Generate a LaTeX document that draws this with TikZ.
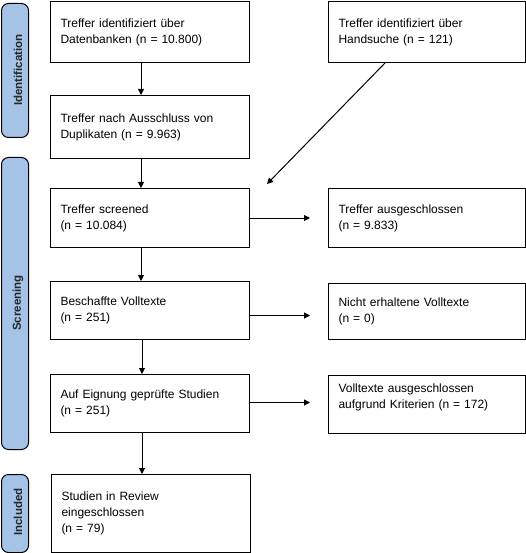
\documentclass[tikz,border=0pt]{standalone}
\usepackage{fontspec}
\setmainfont{Liberation Sans}
\usetikzlibrary{arrows.meta}
\definecolor{barblue}{HTML}{A4C3E6}
\begin{document}
\begin{tikzpicture}[x=1pt,y=-1pt,
  box/.style={draw, line width=1pt, align=left, inner xsep=10pt, inner ysep=0pt,
    anchor=north west, font=\fontsize{12}{16}\selectfont},
  lbox/.style={box, text width=179pt},
  rbox/.style={box, text width=177pt},
  bar/.style={draw, line width=1pt, fill=barblue, rounded corners=7pt, anchor=north west,
    minimum width=27pt, inner sep=0pt},
  barlabel/.style={rotate=90, font=\fontsize{11.5}{14}\selectfont\bfseries, text=black!85, inner sep=0pt},
  arr/.style={line width=1pt, -{Triangle[length=6pt,width=6pt]}}]
\useasboundingbox (0,0) rectangle (526,553);

% side bars
\node[bar, minimum height=134pt] (s1) at (1,3) {};
\node[barlabel] (l1) at (18,70) {Identification};
\node[bar, minimum height=292pt] (s2) at (1,157) {};
\node[barlabel] (l2) at (18,303) {Screening};
\node[bar, minimum height=78pt] (s3) at (1,474) {};
\node[barlabel] (l3) at (18,512) {Included};

% left column
\node[lbox, minimum height=61pt] (b1) at (50,1) {Treffer identifiziert über\\Datenbanken (n = 10.800)};
\node[lbox, minimum height=63pt] (b2) at (50,95) {Treffer nach Ausschluss von\\Duplikaten (n = 9.963)};
\node[lbox, minimum height=59pt] (b3) at (50,188) {Treffer screened\\(n = 10.084)};
\node[lbox, minimum height=58pt] (b4) at (50,281) {Beschaffte Volltexte\\(n = 251)};
\node[lbox, minimum height=58pt] (b5) at (50,374) {Auf Eignung geprüfte Studien\\(n = 251)};
\node[lbox, minimum height=78pt] (b6) at (51,474) {Studien in Review\\eingeschlossen\\(n = 79)};

% right column
\node[rbox, minimum height=61pt] (r1) at (328,1) {Treffer identifiziert über\\Handsuche (n = 121)};
\node[rbox, minimum height=59pt] (r2) at (328,188) {Treffer ausgeschlossen\\(n = 9.833)};
\node[rbox, minimum height=56pt] (r3) at (328,283) {Nicht erhaltene Volltexte\\(n = 0)};
\node[rbox, minimum height=58pt] (r4) at (328,375) {Volltexte ausgeschlossen\\aufgrund Kriterien (n = 172)\\\mbox{}};

% vertical arrows
\draw[arr] ([xshift=91pt]b1.south west) -- ([xshift=91pt]b2.north west);
\draw[arr] ([xshift=91pt]b2.south west) -- ([xshift=91pt]b3.north west);
\draw[arr] ([xshift=91pt]b3.south west) -- ([xshift=91pt]b4.north west);
\draw[arr] ([xshift=92pt]b4.south west) -- ([xshift=92pt]b5.north west);
\draw[arr] ([xshift=92pt]b5.south west) -- ([xshift=91pt]b6.north west);

% horizontal arrows
\draw[arr, shorten >=18pt] (b3.east) -- (b3.east -| r2.west);
\draw[arr, shorten >=18pt] ([yshift=-5pt]b4.east) -- ([yshift=-5pt]b4.east -| r3.west);
\draw[arr, shorten >=18pt] ([yshift=1pt]b5.east) -- ([yshift=1pt]b5.east -| r4.west);

% diagonal arrow
\coordinate (d) at (267,184);
\draw[arr] ([xshift=57pt]r1.south west) -- (d);
\end{tikzpicture}
\end{document}
